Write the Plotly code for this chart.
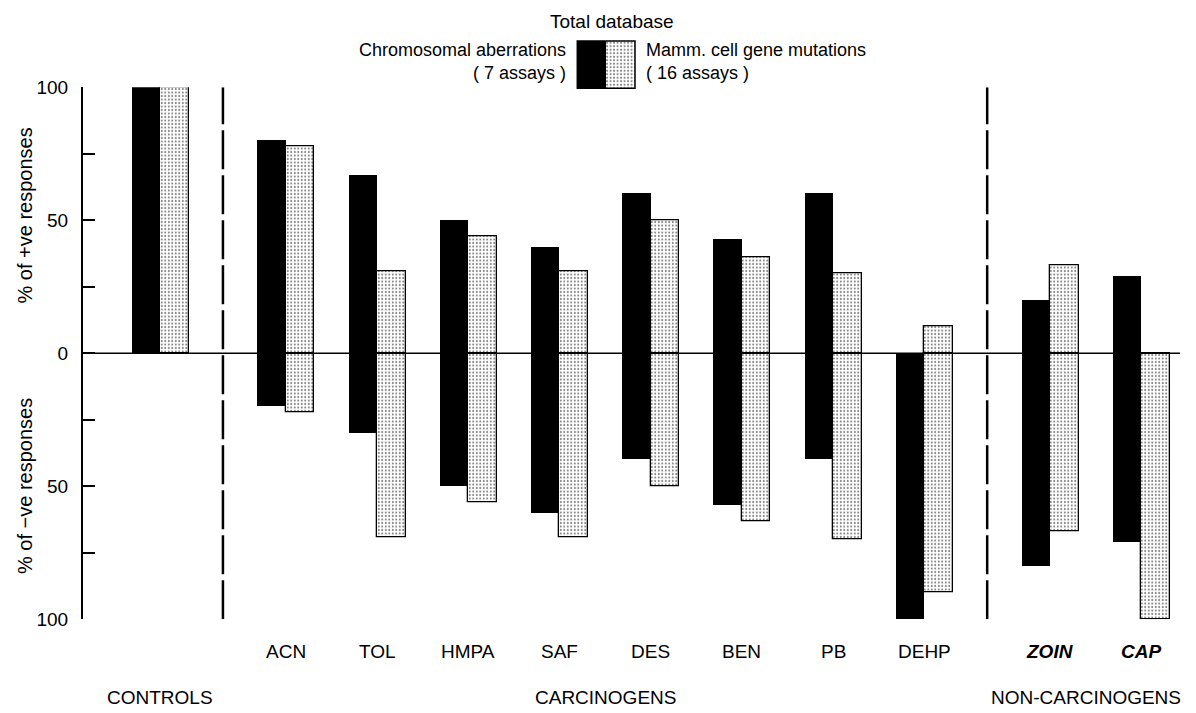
import plotly.graph_objects as go

# Compounds tested (controls first, then carcinogens, then non-carcinogens)
compounds = ["CONTROLS", "ACN", "TOL", "HMPA", "SAF", "DES", "BEN", "PB", "DEHP", "ZOIN", "CAP"]
groups = ["CONTROLS", "CARCINOGENS", "NON-CARCINOGENS"]
group_sizes = [1, 8, 2]

# % positive / % negative responses, chromosomal aberrations (7 assays)
ca_pos = [100, 80, 67, 50, 40, 60, 43, 60, 0, 20, 29]
ca_neg = [0, 20, 30, 50, 60, 40, 57, 40, 100, 80, 71]
# % positive / % negative responses, mammalian cell gene mutations (16 assays)
gm_pos = [100, 78, 31, 44, 31, 50, 36, 30, 10, 33, 0]
gm_neg = [0, 22, 69, 56, 69, 50, 63, 70, 90, 67, 100]

ytick_vals = [100, 75, 50, 25, 0, -25, -50, -75, -100]
ytick_text = ["100", "", "50", "", "0", "", "50", "", "100"]

W, H = 1196, 713
FONT = "Liberation Sans, Arial, sans-serif"
GROUP_GAP = 1.38     # spacing between groups, in compound-slot units
BAR_W = 0.3125       # width of a single bar

# x position of each compound slot
xpos = []
cur = 0.0
for gi, n in enumerate(group_sizes):
    if gi > 0:
        cur += GROUP_GAP - 1
    for _ in range(n):
        xpos.append(cur)
        cur += 1
group_bounds = []
i = 0
for n in group_sizes:
    group_bounds.append((xpos[i], xpos[i + n - 1]))
    i += n


def px_x(p):
    return p / W


def px_y(p):
    return 1 - p / H


stipple = dict(shape=".", fgcolor="black", bgcolor="white", size=3.5, solidity=0.25)

fig = go.Figure()
black_kw = dict(marker=dict(color="black", line=dict(width=0)), offset=-BAR_W, width=BAR_W,
                showlegend=False, hoverinfo="skip")
dot_kw = dict(marker=dict(color="white", pattern=stipple, line=dict(color="black", width=1.3)),
              offset=0, width=BAR_W, showlegend=False, hoverinfo="skip")

fig.add_trace(go.Bar(x=xpos, y=ca_pos, **black_kw))
fig.add_trace(go.Bar(x=xpos, y=[-v for v in ca_neg], **black_kw))
fig.add_trace(go.Bar(x=xpos, y=gm_pos, **dot_kw))
fig.add_trace(go.Bar(x=xpos, y=[-v for v in gm_neg], **dot_kw))

# legend swatch (black | stippled) on its own small axes
fig.add_trace(go.Bar(x=[0.5], y=[1], width=1, marker=dict(color="black", line=dict(width=0)),
                     xaxis="x2", yaxis="y2", showlegend=False, hoverinfo="skip"))
fig.add_trace(go.Bar(x=[1.5], y=[1], width=1, marker=dict(color="white", pattern=stipple, line=dict(width=0)),
                     xaxis="x2", yaxis="y2", showlegend=False, hoverinfo="skip"))

x_left_px, x_right_px = 83, 1180
px_per_unit = 91.2
x0_val = xpos[0] - (160 - x_left_px) / px_per_unit
x1_val = x0_val + (x_right_px - x_left_px) / px_per_unit

shapes = []
# zero line
shapes.append(dict(type="line", xref="paper", yref="y", x0=px_x(x_left_px), x1=px_x(x_right_px),
                   y0=0, y1=0, line=dict(color="black", width=1.5), layer="above"))
# dashed separators between groups
for gi in range(len(group_bounds) - 1):
    xm = (group_bounds[gi][1] + group_bounds[gi + 1][0]) / 2
    shapes.append(dict(type="line", xref="x", yref="y", x0=xm, x1=xm, y0=-100, y1=100,
                       line=dict(color="black", width=2.5, dash="39px,6px")))
# legend swatch border
shapes.append(dict(type="rect", xref="paper", yref="paper",
                   x0=px_x(577.3), x1=px_x(635), y0=px_y(88.3), y1=px_y(41),
                   line=dict(color="black", width=1.5), fillcolor="rgba(0,0,0,0)"))

ann = []
txt = dict(family=FONT, size=19, color="black")
# compound labels (the controls slot carries only its group label)
for k, name in enumerate(compounds):
    if k == 0:
        continue
    label = name if k < 9 else "<b><i>%s</i></b>" % name
    ann.append(dict(x=xpos[k], xref="x", y=px_y(651), yref="paper", text=label,
                    showarrow=False, font=txt, xanchor="center", yanchor="middle"))
# group labels
for gi, g in enumerate(groups):
    a, b = group_bounds[gi]
    if gi == len(groups) - 1:
        ann.append(dict(x=px_x(1183), xref="paper", y=px_y(697), yref="paper", text=g,
                        showarrow=False, font=txt, xanchor="right", yanchor="middle"))
    else:
        ann.append(dict(x=(a + b) / 2, xref="x", y=px_y(697), yref="paper", text=g,
                        showarrow=False, font=txt, xanchor="center", yanchor="middle"))
# axis titles
ttl = dict(family=FONT, size=20, color="black")
ann.append(dict(x=px_x(25), xref="paper", y=px_y(215.5), yref="paper", text="% of +ve responses",
                textangle=-90, showarrow=False, font=ttl, xanchor="center", yanchor="middle"))
ann.append(dict(x=px_x(25), xref="paper", y=px_y(486), yref="paper", text="% of \u2212ve responses",
                textangle=-90, showarrow=False, font=ttl, xanchor="center", yanchor="middle"))
# legend texts
ann.append(dict(x=px_x(611.7), xref="paper", y=px_y(22), yref="paper", text="Total database",
                showarrow=False, font=txt, xanchor="center", yanchor="middle"))
leg = dict(family=FONT, size=18, color="black")
ann.append(dict(x=px_x(568), xref="paper", y=px_y(62), yref="paper",
                text="Chromosomal aberrations<br>( 7 assays )", align="right",
                showarrow=False, font=leg, xanchor="right", yanchor="middle"))
ann.append(dict(x=px_x(644), xref="paper", y=px_y(62), yref="paper",
                text="Mamm. cell gene mutations<br>( 16 assays )", align="left",
                showarrow=False, font=leg, xanchor="left", yanchor="middle"))

fig.update_layout(
    width=W, height=H, autosize=False,
    margin=dict(l=0, r=0, t=0, b=0, pad=0),
    paper_bgcolor="white", plot_bgcolor="rgba(0,0,0,0)",
    barmode="overlay", bargap=0,
    font=txt,
    xaxis=dict(domain=[px_x(x_left_px), px_x(x_right_px)], range=[x0_val, x1_val],
               visible=False, fixedrange=True, automargin=False),
    yaxis=dict(domain=[px_y(619.3), px_y(87.3)], range=[-100, 100], automargin=False,
               tickvals=ytick_vals, ticktext=ytick_text, ticks="inside", ticklen=12,
               tickwidth=2, tickcolor="black", showline=True, linewidth=2, linecolor="black",
               showgrid=False, zeroline=False, ticklabelstandoff=9,
               tickfont=dict(family=FONT, size=19, color="black")),
    xaxis2=dict(domain=[px_x(577.3), px_x(635)], range=[0, 2], visible=False, anchor="y2"),
    yaxis2=dict(domain=[px_y(88.3), px_y(41)], range=[0, 1], visible=False, anchor="x2"),
    shapes=shapes,
    annotations=ann,
)

fig.write_html("out.html")
